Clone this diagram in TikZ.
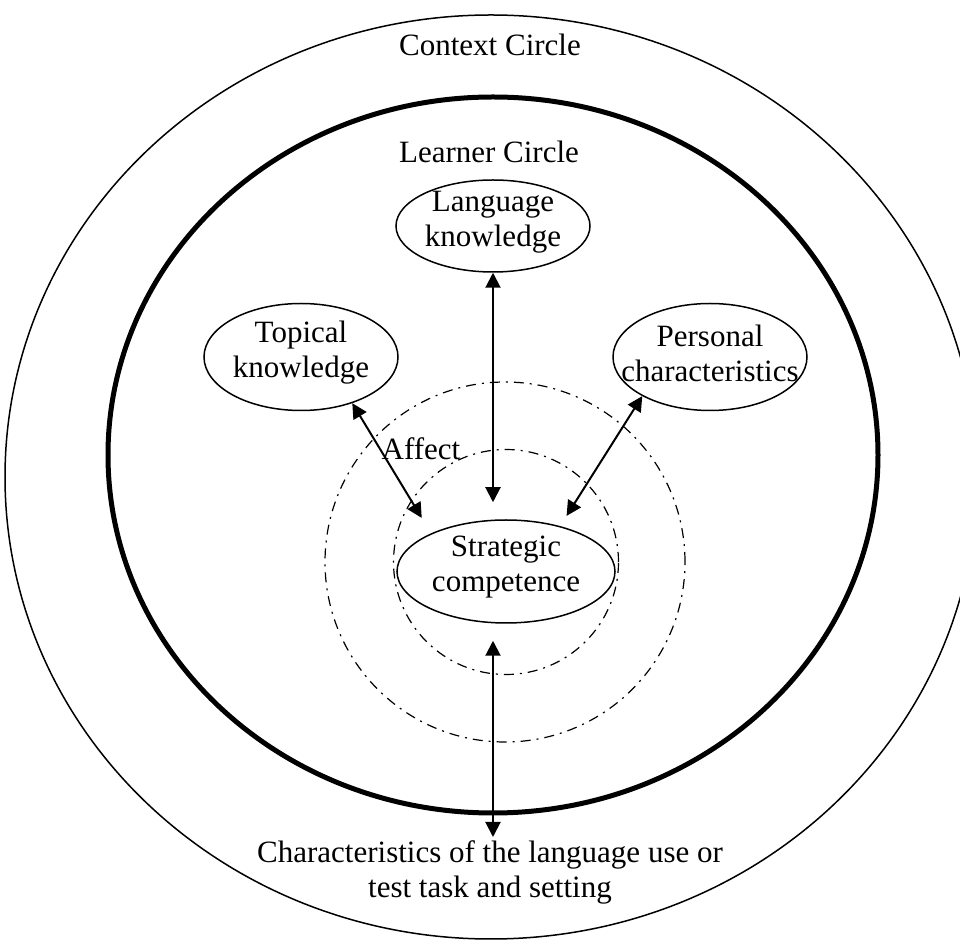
\documentclass[tikz,border=0pt]{standalone}
\usepackage{fontspec}
\setmainfont{Liberation Serif}
\usetikzlibrary{arrows.meta,shapes.geometric,calc}

\begin{document}
\begin{tikzpicture}[
    x=0.5pt, y=-0.5pt,
    every node/.style={font=\fontsize{15.5}{17.5}\selectfont},
    every label/.style={align=center, inner sep=0pt, yshift=2pt},
    know/.style={draw, ellipse, line width=0.75pt, inner sep=0pt, minimum width=97pt, minimum height=53.5pt},
    ring/.style={line width=0.75pt},
    learner/.style={line width=2.5pt},
    affectring/.style={line width=0.6pt, dash pattern=on 5pt off 3pt on 1pt off 3pt},
    link/.style={{Triangle[length=7.5pt,width=7.5pt]}-{Triangle[length=7.5pt,width=7.5pt]}, line width=1pt}
]
\useasboundingbox (0,0) rectangle (960,940);
% circles
\draw[ring] (491,477) ellipse [x radius=243pt, y radius=231pt];
\draw[learner] (493,455) ellipse [x radius=192.5pt, y radius=179pt];
\draw[affectring] (505,562) circle [radius=90pt];
\draw[affectring] (506,562) circle [radius=56.25pt];
\node[anchor=base] (context) at (490,56) {Context Circle};
\node[anchor=base] (learnertxt) at (489,163) {Learner Circle};
\node[anchor=base] (affect) at (421,460) {Affect};
% components
\node[know, minimum height=46pt, label=center:{Language\\knowledge}] (lang) at (493,226) {};
\node[know, label=center:{Topical\\knowledge}] (topical) at (301,357) {};
\node[know, label=center:{Personal\\characteristics}] (personal) at (710,357) {};
\node[know, minimum width=109pt, minimum height=51.5pt, label=center:{Strategic\\competence}] (strategic) at (506,571.5) {};
\node[align=center, anchor=north, inner sep=0pt] (task) at (490,840) {Characteristics of the language use or\\test task and setting};
% links
\draw[link, shorten >=8.5pt] (lang.south) -- (lang.south |- strategic.north);
\draw[link, shorten >=9pt] (topical.-42) -- (strategic.153);
\draw[link, shorten >=6pt] (personal.-150) -- (strategic.40);
\draw[link, shorten <=8.5pt, shorten >=1.5pt] (strategic.south -| lang.south) -- (task.north -| lang.south);
\end{tikzpicture}
\end{document}
